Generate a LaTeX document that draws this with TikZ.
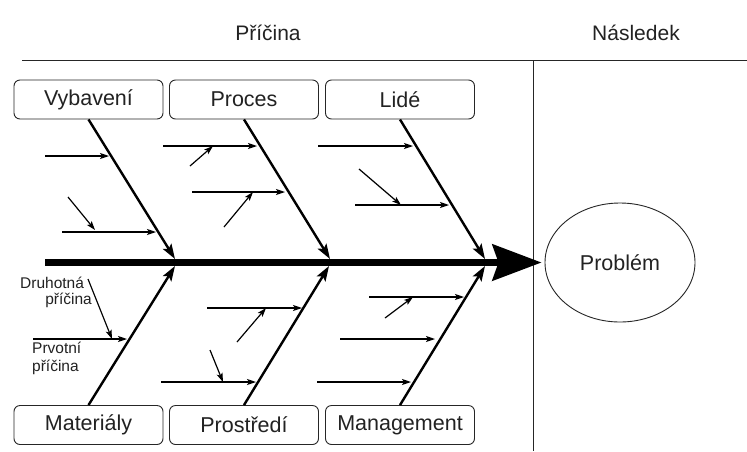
\documentclass[tikz,border=0pt]{standalone}
\usepackage{fontspec}
\setmainfont{Liberation Sans}
\usetikzlibrary{arrows.meta,shapes.geometric}
\definecolor{txt}{HTML}{222222}
\begin{document}
\begin{tikzpicture}[x=1pt,y=-1pt,
  box/.style={draw=black!85,rounded corners=6pt,minimum width=149pt,minimum height=39pt,
    inner sep=0pt,line width=0.9pt,text=txt,font=\fontsize{21.5}{25}\selectfont},
  title/.style={text=txt,font=\fontsize{21}{25}\selectfont},
  small/.style={text=txt,font=\fontsize{15.5}{18}\selectfont,inner sep=0pt},
  bone/.style={line width=2.4pt,-{Stealth[length=15pt,width=10pt,inset=3pt]}},
  sub/.style={line width=1.2pt,-{Stealth[length=9pt,width=6pt,inset=2pt]}},
  frame/.style={line width=1pt,black!85}]
\useasboundingbox (0,0) rectangle (747,451);
\fill[white] (0,0) rectangle (747,451);

% frame
\coordinate (hl) at (22,60);
\coordinate (hr) at (747,60);
\coordinate (vt) at (533,60);
\coordinate (vb) at (533,451);
\draw[frame] (hl) -- (hr);
\draw[frame] (vt) -- (vb);
\node[title] (tcause) at (268,33) {Příčina};
\node[title] (teffect) at (636,33) {Následek};

% boxes
\node[box] (vyb) at (88.5,99.5) {Vybavení};
\node[box] (pro) at (244,99.5) {Proces};
\node[box] (lid) at (400,99.5) {Lidé};
\node[box] (mat) at (88.5,425) {Materiály};
\node[box] (pst) at (244,425) {Prostředí};
\node[box] (man) at (400,425) {Management};

% problem
\node[ellipse,draw=black!85,line width=0.9pt,minimum width=150pt,minimum height=119pt,
  text=txt,font=\fontsize{21.5}{25}\selectfont] (prob) at (620,262.5) {Problém};

% spine
\coordinate (s0) at (45,262.5);
\draw[line width=7pt,-{Stealth[length=49pt,width=36pt,inset=6pt]},shorten >=3pt] (s0) -- (prob.west);

% main bones
\coordinate (j1t) at (175,259);
\coordinate (j2t) at (330,259);
\coordinate (j3t) at (485,259);
\coordinate (j1b) at (175,266);
\coordinate (j2b) at (329,266);
\coordinate (j3b) at (485,266);
\draw[bone] (vyb.south) -- (j1t);
\draw[bone] (pro.south) -- (j2t);
\draw[bone] (lid.south) -- (j3t);
\draw[bone] (mat.north) -- (j1b);
\draw[bone] (pst.north) -- (j2b);
\draw[bone] (man.north) -- (j3b);

% Vybaveni
\coordinate (vAs) at (45,156);  \coordinate (vAe) at (109,156);
\coordinate (vBs) at (62,232);  \coordinate (vBe) at (156,232);
\coordinate (vas) at (68,197);  \coordinate (vae) at (95,230);
\draw[sub] (vAs) -- (vAe);
\draw[sub] (vBs) -- (vBe);
\draw[sub] (vas) -- (vae);
% Proces
\coordinate (pAs) at (163,146); \coordinate (pAe) at (257,146);
\coordinate (pBs) at (192,192); \coordinate (pBe) at (285,192);
\coordinate (pas) at (190,166); \coordinate (pae) at (213,146);
\coordinate (pbs) at (224,227); \coordinate (pbe) at (253,192);
\draw[sub] (pAs) -- (pAe);
\draw[sub] (pBs) -- (pBe);
\draw[sub] (pas) -- (pae);
\draw[sub] (pbs) -- (pbe);
% Lide
\coordinate (lAs) at (318,146); \coordinate (lAe) at (413,146);
\coordinate (lBs) at (355,205); \coordinate (lBe) at (449,205);
\coordinate (las) at (359,169); \coordinate (lae) at (401,205);
\draw[sub] (lAs) -- (lAe);
\draw[sub] (lBs) -- (lBe);
\draw[sub] (las) -- (lae);
% Materialy
\coordinate (mAs) at (33,339);  \coordinate (mAe) at (127,339);
\coordinate (mas) at (88,279);  \coordinate (mae) at (112,339);
\draw[sub] (mAs) -- (mAe);
\draw[sub] (mas) -- (mae);
\node[small,anchor=west] (l1) at (20,283) {Druhotná};
\node[small,anchor=east] (l2) at (92,300) {příčina};
\node[small,anchor=west] (l3) at (32,348) {Prvotní};
\node[small,anchor=west] (l4) at (32,367) {příčina};
% Prostredi
\coordinate (sAs) at (207,308); \coordinate (sAe) at (302,308);
\coordinate (sBs) at (161,382); \coordinate (sBe) at (256,382);
\coordinate (sas) at (237,342); \coordinate (sae) at (266,308);
\coordinate (sbs) at (210,350); \coordinate (sbe) at (223,382);
\draw[sub] (sAs) -- (sAe);
\draw[sub] (sBs) -- (sBe);
\draw[sub] (sas) -- (sae);
\draw[sub] (sbs) -- (sbe);
% Management
\coordinate (gAs) at (369,297); \coordinate (gAe) at (464,297);
\coordinate (gBs) at (340,339); \coordinate (gBe) at (435,339);
\coordinate (gCs) at (317,382); \coordinate (gCe) at (411,382);
\coordinate (gas) at (385,318); \coordinate (gae) at (413,297);
\draw[sub] (gAs) -- (gAe);
\draw[sub] (gBs) -- (gBe);
\draw[sub] (gCs) -- (gCe);
\draw[sub] (gas) -- (gae);
\end{tikzpicture}
\end{document}
